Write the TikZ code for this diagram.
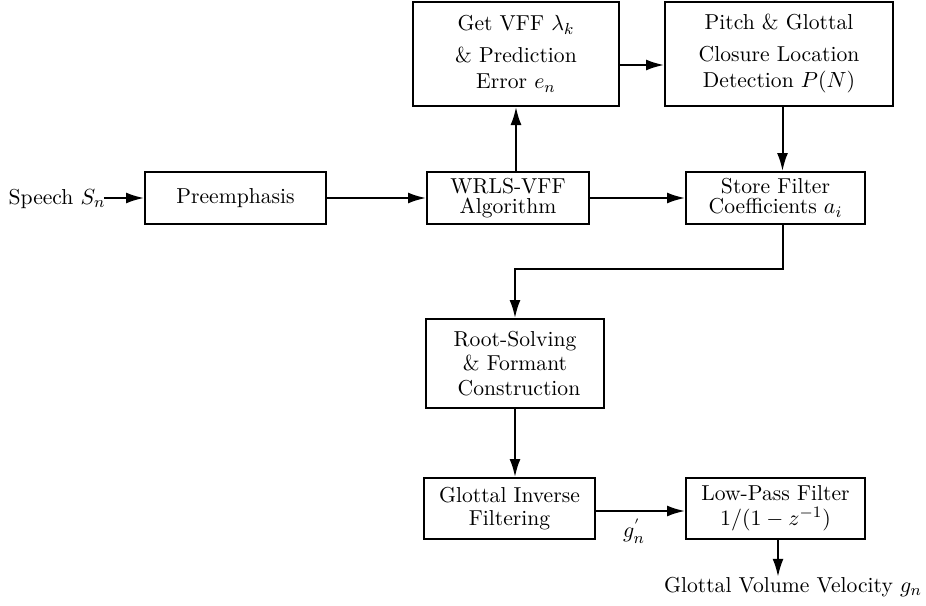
\documentclass[tikz,border=0pt]{standalone}
\usetikzlibrary{arrows.meta,calc}
\tikzset{
  blk/.style={draw, line width=1pt, inner sep=0pt, align=center},
  lbl/.style={inner sep=0pt},
  flow/.style={line width=1pt, -{Latex[length=9pt,width=5.5pt]}},
}
\newcommand{\bfs}[1]{\fontsize{10.8}{#1}\selectfont}
\begin{document}
\begin{tikzpicture}[x=0.5pt,y=-0.5pt]
\useasboundingbox (0,0) rectangle (926,605);

% processing blocks
\node[blk, minimum width=90.5pt, minimum height=26pt, font=\bfs{13pt}] (pre) at (235.5,198) {Preemphasis};
\node[blk, minimum width=81pt, minimum height=26pt, font=\bfs{10pt}] (wrls) at (508,198) {WRLS-VFF\\Algorithm};
\node[blk, minimum width=89.5pt, minimum height=26pt, font=\bfs{10pt}] (store) at (775.5,198) {Store Filter\\Coefficients $a_i$};
\node[blk, minimum width=103pt, minimum height=52pt, font=\bfs{13pt}] (vff) at (516,54) {Get VFF $\lambda_k$\\[3pt] \& Prediction\\ Error $e_n$};
\node[blk, minimum width=114pt, minimum height=52pt, font=\bfs{13pt}] (pitch) at (779,54) {Pitch \& Glottal\\[3pt] Closure Location\\ Detection $P(N)$};
\node[blk, minimum width=89pt, minimum height=44.5pt, font=\bfs{12.25pt}] (root) at (515,363.5) {Root-Solving\\ \& Formant\\ \hspace*{4pt}Construction};
\node[blk, minimum width=85.5pt, minimum height=30.5pt, font=\bfs{11.5pt}] (gif) at (509.5,508.5) {Glottal Inverse\\Filtering};
\node[blk, minimum width=89.5pt, minimum height=30.5pt, font=\bfs{12.5pt}] (lpf) at (775.5,508.5) {Low-Pass Filter\\$1/(1-z^{-1})$};

% signal labels
\node[lbl, font=\bfs{13pt}] (sp) at (57,199) {Speech $S_n$};
\node[lbl, font=\bfs{13pt}] (gp) at (634,531) {$g_n^{'}$};
\node[lbl, font=\bfs{13pt}] (out) at (793,587) {Glottal Volume Velocity $g_n$};

% connections
\draw[flow] ([shift={(-1pt,0.5pt)}]sp.east) -- ([yshift=0.5pt]sp.east -| pre.west);
\draw[flow] (pre.east) -- (wrls.west);
\draw[flow] (wrls.east) -- (store.west);
\draw[flow] (vff.south |- wrls.north) -- (vff.south);
\draw[flow] ([yshift=-5.5pt]vff.east) -- ([yshift=-5.5pt]vff.east -| pitch.west);
\draw[flow] ([xshift=3.5pt]store.north |- pitch.south) -- ([xshift=3.5pt]store.north);
\draw[flow] ([xshift=3.5pt]store.south) -- ++(0,-22pt) -| (root.north);
\draw[flow] (root.south) -- (root.south |- gif.north);
\draw[flow] ([yshift=-1.25pt]gif.east) -- ([yshift=-1.25pt]gif.east -| lpf.west);
\draw[flow] ([xshift=1.25pt]lpf.south) -- ([xshift=1.25pt]lpf.south |- out.north);
\end{tikzpicture}
\end{document}
